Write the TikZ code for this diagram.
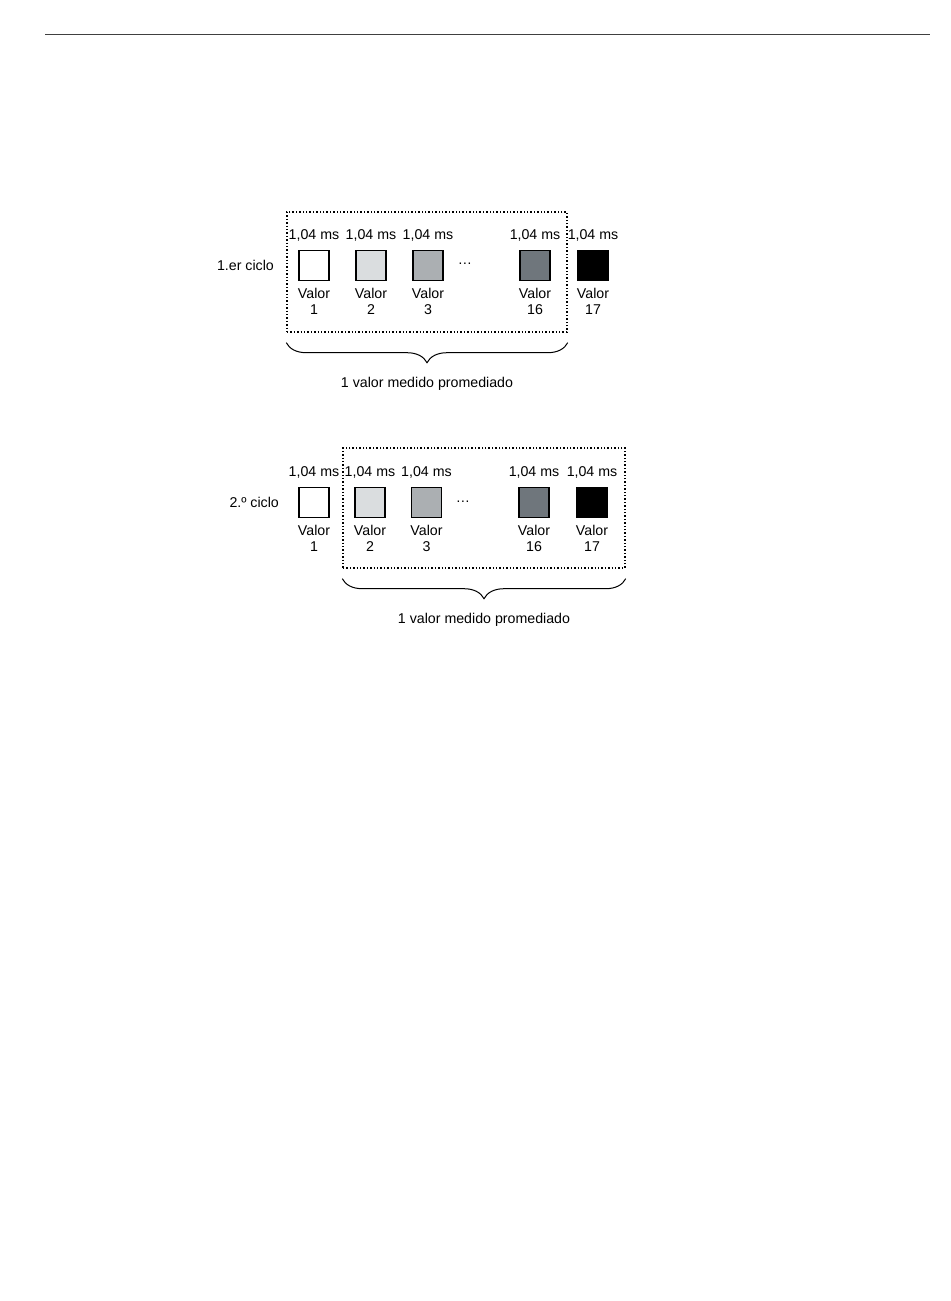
\documentclass[tikz,border=0pt]{standalone}
\usepackage{fontspec}
\setmainfont{Liberation Sans}
\definecolor{valgraylight}{HTML}{DADDDF}
\definecolor{valgraymid}{HTML}{ABAFB2}
\definecolor{valgraydark}{HTML}{6F767C}
\usepackage{tikz}
\usetikzlibrary{positioning, decorations.pathreplacing}

\begin{document}
\begin{tikzpicture}[x=0.5pt, y=-0.5pt,
    valbox/.style={draw, line width=0.7pt, minimum size=15pt, inner sep=0pt},
    timelbl/.style={font=\fontsize{7.1}{8}\selectfont, inner sep=0pt},
    vallbl/.style={font=\fontsize{7.1}{7.6}\selectfont, align=center, inner sep=0pt},
    groupbox/.style={draw, densely dotted, line width=0.7pt, minimum height=60pt, inner sep=0pt},
    avgbrace/.style={decorate, decoration={brace, amplitude=10pt}, line width=0.5pt}]
        \useasboundingbox (0,0) rectangle (950,1301);
        % Page rule
        \draw[black!75, line width=0.8pt] (45,34.5) -- (930,34.5);
        % Cycle 1: averaging window (values 1-16)
        \node[groupbox, minimum width=140pt] (winA) at (427,272) {};
        \node[valbox, fill=white]        (cA1)  at (314,265.5) {};
        \node[valbox, fill=valgraylight] (cA2)  at (371,265.5) {};
        \node[valbox, fill=valgraymid]   (cA3)  at (428,265.5) {};
        \node[valbox, fill=valgraydark]  (cA16) at (535,265.5) {};
        \node[valbox, fill=black]        (cA17) at (593,265.5) {};
        \node[timelbl, anchor=base] (dotsA) at (465,264) {…};
        \node[timelbl, left=12pt of cA1] (cycleA) {1.er ciclo};
        % Cycle 1: time labels
        \node[timelbl, above=4pt of cA1]  (tA1)  {1,04 ms};
        \node[timelbl, above=4pt of cA2]  (tA2)  {1,04 ms};
        \node[timelbl, above=4pt of cA3]  (tA3)  {1,04 ms};
        \node[timelbl, above=4pt of cA16] (tA16) {1,04 ms};
        \node[timelbl, above=4pt of cA17] (tA17) {1,04 ms};
        % Cycle 1: value labels
        \node[vallbl, below=3.5pt of cA1]  (vA1)  {Valor\\1};
        \node[vallbl, below=3.5pt of cA2]  (vA2)  {Valor\\2};
        \node[vallbl, below=3.5pt of cA3]  (vA3)  {Valor\\3};
        \node[vallbl, below=3.5pt of cA16] (vA16) {Valor\\16};
        \node[vallbl, below=3.5pt of cA17] (vA17) {Valor\\17};
        % Cycle 1: brace
        \draw[avgbrace]
          ([yshift=-5pt]winA.south east) -- ([yshift=-5pt]winA.south west)
          node[timelbl, midway, below=17pt] (avgA) {1 valor medido promediado};
        % Cycle 2: averaging window (values 2-17)
        \node[groupbox, minimum width=141pt] (winB) at (484,508) {};
        \node[valbox, fill=white]        (cB1)  at (314,502.5) {};
        \node[valbox, fill=valgraylight] (cB2)  at (370,502.5) {};
        \node[valbox, fill=valgraymid]   (cB3)  at (426.5,502.5) {};
        \node[valbox, fill=valgraydark]  (cB16) at (534,502.5) {};
        \node[valbox, fill=black]        (cB17) at (592,502.5) {};
        \node[timelbl, anchor=base] (dotsB) at (463,502) {…};
        \node[timelbl, left=9.5pt of cB1] (cycleB) {2.º ciclo};
        % Cycle 2: time labels
        \node[timelbl, above=4pt of cB1]  (tB1)  {1,04 ms};
        \node[timelbl, above=4pt of cB2]  (tB2)  {1,04 ms};
        \node[timelbl, above=4pt of cB3]  (tB3)  {1,04 ms};
        \node[timelbl, above=4pt of cB16] (tB16) {1,04 ms};
        \node[timelbl, above=4pt of cB17] (tB17) {1,04 ms};
        % Cycle 2: value labels
        \node[vallbl, below=3.5pt of cB1]  (vB1)  {Valor\\1};
        \node[vallbl, below=3.5pt of cB2]  (vB2)  {Valor\\2};
        \node[vallbl, below=3.5pt of cB3]  (vB3)  {Valor\\3};
        \node[vallbl, below=3.5pt of cB16] (vB16) {Valor\\16};
        \node[vallbl, below=3.5pt of cB17] (vB17) {Valor\\17};
        % Cycle 2: brace
        \draw[avgbrace]
          ([yshift=-5pt]winB.south east) -- ([yshift=-5pt]winB.south west)
          node[timelbl, midway, below=17pt] (avgB) {1 valor medido promediado};
      \end{tikzpicture}
\end{document}
